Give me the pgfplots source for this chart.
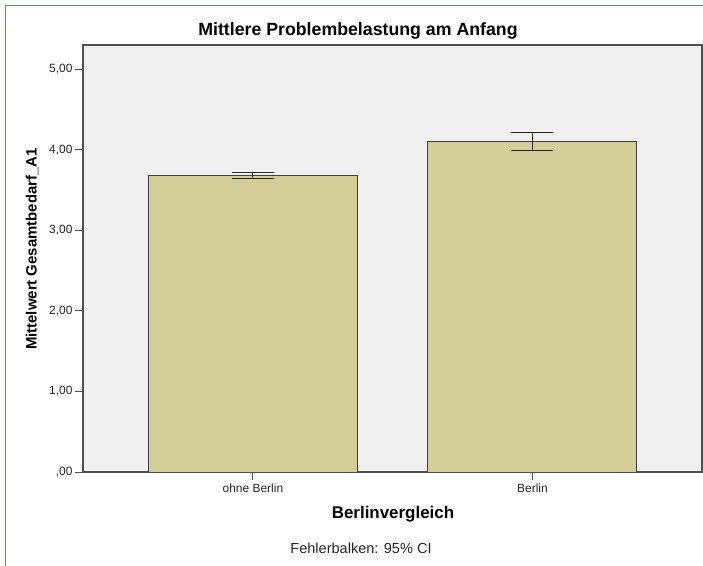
\documentclass[border=0pt]{standalone}
\usepackage{fontspec}
\setmainfont{Liberation Sans}
\usepackage{pgfplots}
\pgfplotsset{compat=1.18}
\definecolor{bgc}{RGB}{240,240,240}
\definecolor{barc}{RGB}{211,206,151}
\definecolor{framec}{RGB}{80,80,80}
\definecolor{bluec}{RGB}{79,129,199}
\begin{document}
\begin{tikzpicture}
\useasboundingbox (-83bp,-94bp) rectangle (620bp,472bp);
\draw[bluec, line width=1.5bp] (-77.5bp,-94bp) -- (-77.5bp,466.5bp) -- (620bp,466.5bp);
\begin{axis}[
  at={(0,0)}, anchor=south west,
  scale only axis,
  width=619bp, height=427bp,
  xmin=-0.608, xmax=1.6067,
  ymin=0, ymax=5.298,
  axis background/.style={fill=bgc},
  axis line style={framec, line width=1.2bp},
  xtick={0,1},
  xticklabels={ohne Berlin, Berlin},
  ytick={0,1,2,3,4,5},
  yticklabels={{,00},{1,00},{2,00},{3,00},{4,00},{5,00}},
  tick align=outside,
  xtick pos=bottom, ytick pos=left,
  major tick length=8bp,
  tick style={framec, line width=1bp},
  ticklabel style={font=\fontsize{12}{14}\selectfont, text=black!85},
  yticklabel style={xshift=1bp},
]
\addplot[ybar, bar width=209bp, fill=barc, draw=black!75, line width=1bp,
  error bars/.cd, y dir=both, y explicit,
  error bar style={black!85, line width=1bp},
  error mark options={black!85, line width=1bp, mark size=21bp, rotate=90}]
coordinates {
  (0,3.681) +- (0,0.037)
  (1,4.103) +- (0,0.112)
};
\end{axis}
\node[anchor=base, font=\fontsize{17.8}{20}\selectfont\bfseries] at (275bp,436.3bp) {Mittlere Problembelastung am Anfang};
\node[rotate=90, anchor=center, font=\fontsize{15}{17}\selectfont\bfseries] at (-51bp,223bp) {Mittelwert Gesamtbedarf\_A1};
\node[anchor=base, font=\fontsize{17}{19}\selectfont\bfseries] at (310bp,-46bp) {Berlinvergleich};
\node[anchor=base, font=\fontsize{14.6}{17}\selectfont, text=black!85] at (278bp,-81bp) {Fehlerbalken: 95\% CI};
\end{tikzpicture}
\end{document}
